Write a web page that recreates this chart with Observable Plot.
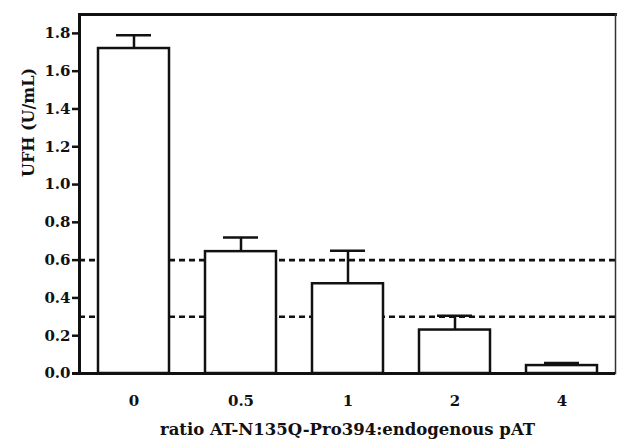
<!DOCTYPE html>
<html>
<head>
<meta charset="utf-8">
<script src="https://cdn.jsdelivr.net/npm/d3@7"></script>
<script src="https://cdn.jsdelivr.net/npm/@observablehq/plot@0.6"></script>
<style>
  html, body { margin: 0; padding: 0; background: #fff; }
</style>
</head>
<body>
<div id="chart"></div>
<script>
const categories = ["0", "0.5", "1", "2", "4"];
const means = [1.72, 0.645, 0.475, 0.23, 0.042];
const errors = [0.07, 0.075, 0.175, 0.075, 0.013];
const thresholds = [0.6, 0.3];
const yTicks = [0, 0.2, 0.4, 0.6, 0.8, 1.0, 1.2, 1.4, 1.6, 1.8];
const yLabel = "UFH (U/mL)";
const xLabel = "ratio AT-N135Q-Pro394:endogenous pAT";

const data = categories.map((c, i) => ({ratio: c, mean: means[i], top: means[i] + errors[i]}));
const font = "'DejaVu Serif', 'Liberation Serif', serif";

const chart = Plot.plot({
  width: 619,
  height: 441,
  marginTop: 14,
  marginLeft: 79,
  marginRight: 4,
  marginBottom: 68,
  style: {fontFamily: font, fontWeight: "bold", fontSize: "15px", background: "#fff", color: "#111"},
  x: {domain: categories, padding: 0.34, paddingOuter: 0.17, label: null},
  y: {domain: [0, 1.9], label: null},
  marks: [
    Plot.ruleY(thresholds, {stroke: "#111", strokeWidth: 2.6, strokeDasharray: "6,4"}),
    Plot.ruleX(data, {x: "ratio", y1: "mean", y2: "top", stroke: "#111", strokeWidth: 2.5}),
    Plot.tickY(data, {x: "ratio", y: "top", stroke: "#111", strokeWidth: 2.5, inset: 18}),
    Plot.barY(data, {x: "ratio", y: "mean", fill: "#fff", stroke: "#111", strokeWidth: 2.5}),
    Plot.axisY({ticks: yTicks, tickFormat: d3.format(".1f"), tickSize: 7, tickPadding: 2, strokeWidth: 2.5, label: null, fontSize: 15, fontWeight: "bold", fontFamily: font}),
    Plot.axisX({tickSize: 0, tickPadding: 22, label: null, fontSize: 15, fontWeight: "bold", fontFamily: font}),
    Plot.frame({anchor: "left", stroke: "#111", strokeWidth: 3}),
    Plot.frame({anchor: "top", stroke: "#111", strokeWidth: 2.8}),
    Plot.frame({anchor: "right", stroke: "#333", strokeWidth: 1.5}),
    Plot.ruleY([0], {stroke: "#111", strokeWidth: 3, insetLeft: -7}),
    Plot.text([yLabel], {frameAnchor: "left", dx: -51, dy: -17, rotate: -90, fontSize: 16, fontWeight: "bold", fontFamily: font, fill: "#111"}),
    Plot.text([xLabel], {frameAnchor: "bottom", dy: 61, fontSize: 16.5, fontWeight: "bold", fontFamily: font, fill: "#111"})
  ]
});
document.getElementById("chart").appendChild(chart);
</script>
</body>
</html>
